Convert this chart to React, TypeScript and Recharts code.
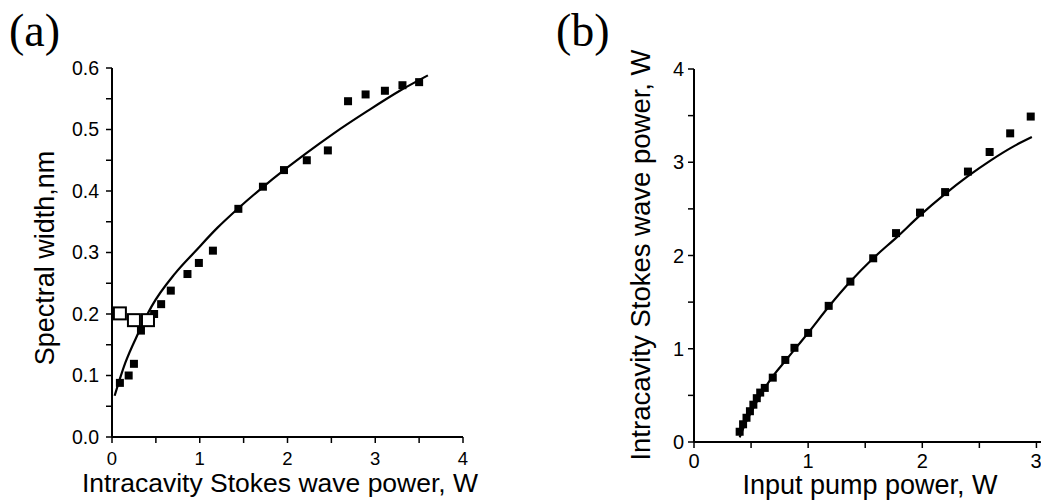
import { ScatterChart, Scatter, XAxis, YAxis, Label } from 'recharts';

const FONT = '"Liberation Sans", Arial, Helvetica, sans-serif';
const SERIF = '"Liberation Serif", "Times New Roman", serif';

// (a) spectral width vs intracavity Stokes wave power
const aPower = [0.09, 0.19, 0.25, 0.33, 0.48, 0.56, 0.67, 0.86, 0.99, 1.15, 1.44, 1.72, 1.96, 2.22, 2.46, 2.69, 2.89, 3.11, 3.31, 3.5];
const aWidth = [0.088, 0.1, 0.119, 0.173, 0.2, 0.216, 0.238, 0.265, 0.283, 0.303, 0.371, 0.407, 0.434, 0.45, 0.466, 0.546, 0.557, 0.563, 0.572, 0.577];
const aOpenPower = [0.09, 0.25, 0.41];
const aOpenWidth = [0.201, 0.19, 0.19];
const aFitPower = [0.03, 0.15, 0.3, 0.45, 0.72, 0.95, 1.2, 1.44, 1.7, 1.97, 2.2, 2.52, 2.9, 3.28, 3.6];
const aFitWidth = [0.067, 0.12, 0.169, 0.212, 0.266, 0.302, 0.34, 0.372, 0.404, 0.435, 0.46, 0.493, 0.529, 0.563, 0.588];
const aXTicks = [0, 0.5, 1, 1.5, 2, 2.5, 3, 3.5, 4];
const aYTicks = [0, 0.05, 0.1, 0.15, 0.2, 0.25, 0.3, 0.35, 0.4, 0.45, 0.5, 0.55, 0.6];

// (b) intracavity Stokes wave power vs input pump power
const bPump = [0.4, 0.43, 0.46, 0.49, 0.52, 0.55, 0.58, 0.62, 0.69, 0.8, 0.88, 1.0, 1.18, 1.37, 1.57, 1.77, 1.98, 2.2, 2.4, 2.59, 2.77, 2.95];
const bStokes = [0.11, 0.19, 0.26, 0.33, 0.4, 0.47, 0.53, 0.58, 0.69, 0.88, 1.01, 1.17, 1.46, 1.72, 1.97, 2.24, 2.46, 2.68, 2.9, 3.11, 3.31, 3.49];
const bFitPump = [0.4, 0.45, 0.5, 0.6, 0.7, 0.8, 0.9, 1.0, 1.18, 1.37, 1.57, 1.78, 1.98, 2.19, 2.4, 2.6, 2.8, 2.96];
const bFitStokes = [0.05, 0.2, 0.32, 0.54, 0.72, 0.87, 1.02, 1.17, 1.45, 1.72, 1.97, 2.2, 2.43, 2.65, 2.85, 3.02, 3.17, 3.27];
const bXTicks = [0, 0.5, 1, 1.5, 2, 2.5, 3];
const bYTicks = [0, 0.5, 1, 1.5, 2, 2.5, 3, 3.5, 4];

const zip = (xs: number[], ys: number[]) => xs.map((x, i) => ({ x, y: ys[i] }));

const isWhole = (v: number, step: number) => Math.abs(v / step - Math.round(v / step)) < 1e-6;

const FilledSquare = (props: any) => (
  <rect x={props.cx - 4} y={props.cy - 4} width={8} height={8} fill="#000" />
);
const OpenSquare = (props: any) => (
  <rect x={props.cx - 6} y={props.cy - 6} width={12} height={12} fill="#fff" stroke="#000" strokeWidth={2} />
);
const NoDot = () => <g />;

const axisLine = { stroke: '#000', strokeWidth: 2 };
const tickLine = { stroke: '#000', strokeWidth: 1.5 };

export default function App() {
  return (
    <div style={{ position: 'absolute', left: 0, top: 0, width: 1041, height: 502, background: '#fff' }}>
      <div style={{ position: 'absolute', left: 0, top: 0 }}>
        <ScatterChart width={540} height={502} margin={{ top: 68, right: 77, bottom: 0, left: 0 }}>
          <XAxis
            type="number"
            dataKey="x"
            domain={[0, 4]}
            ticks={aXTicks}
            tickFormatter={(v: number) => (isWhole(v, 1) ? String(v) : '')}
            height={65}
            tickSize={6}
            tickMargin={9}
            axisLine={axisLine}
            tickLine={tickLine}
            tick={{ fill: '#000', fontSize: 18.5, fontFamily: FONT }}
          >
            <Label
              content={() => (
                <text x={280} y={492} textAnchor="middle" fontSize={26.5} fontFamily={FONT} fill="#000">
                  Intracavity Stokes wave power, W
                </text>
              )}
            />
          </XAxis>
          <YAxis
            type="number"
            dataKey="y"
            domain={[0, 0.6]}
            ticks={aYTicks}
            tickFormatter={(v: number) => (isWhole(v, 0.1) ? v.toFixed(1) : '')}
            width={112}
            tickSize={6}
            tickMargin={7}
            axisLine={axisLine}
            tickLine={tickLine}
            tick={{ fill: '#000', fontSize: 19.5, fontFamily: FONT }}
          >
            <Label
              content={() => (
                <text
                  x={54}
                  y={258}
                  transform="rotate(-90 54 258)"
                  textAnchor="middle"
                  fontSize={27}
                  fontFamily={FONT}
                  fill="#000"
                >
                  Spectral width,nm
                </text>
              )}
            />
          </YAxis>
          <Scatter data={zip(aPower, aWidth)} shape={FilledSquare} isAnimationActive={false} />
          <Scatter
            data={zip(aFitPower, aFitWidth)}
            shape={NoDot}
            line={{ stroke: '#000', strokeWidth: 2.2 }}
            lineJointType="monotoneX"
            isAnimationActive={false}
          />
          <Scatter data={zip(aOpenPower, aOpenWidth)} shape={OpenSquare} isAnimationActive={false} />
        </ScatterChart>
      </div>
      <div style={{ position: 'absolute', left: 540, top: 0 }}>
        <ScatterChart width={501} height={502} margin={{ top: 69, right: 0, bottom: 0, left: 0 }}>
          <XAxis
            type="number"
            dataKey="x"
            domain={[0, 3.04]}
            ticks={bXTicks}
            tickFormatter={(v: number) => (isWhole(v, 1) ? String(v) : '')}
            height={60}
            tickSize={6}
            tickMargin={6}
            axisLine={axisLine}
            tickLine={tickLine}
            tick={{ fill: '#000', fontSize: 20, fontFamily: FONT }}
          >
            <Label
              content={() => (
                <text x={330} y={494} textAnchor="middle" fontSize={27} fontFamily={FONT} fill="#000">
                  Input pump power, W
                </text>
              )}
            />
          </XAxis>
          <YAxis
            type="number"
            dataKey="y"
            domain={[0, 4]}
            ticks={bYTicks}
            tickFormatter={(v: number) => (isWhole(v, 1) ? String(v) : '')}
            width={154}
            tickSize={6}
            tickMargin={4}
            axisLine={axisLine}
            tickLine={tickLine}
            tick={{ fill: '#000', fontSize: 20, fontFamily: FONT }}
          >
            <Label
              content={() => (
                <text
                  x={110}
                  y={255}
                  transform="rotate(-90 110 255)"
                  textAnchor="middle"
                  fontSize={27.5}
                  fontFamily={FONT}
                  fill="#000"
                >
                  Intracavity Stokes wave power, W
                </text>
              )}
            />
          </YAxis>
          <Scatter data={zip(bPump, bStokes)} shape={FilledSquare} isAnimationActive={false} />
          <Scatter
            data={zip(bFitPump, bFitStokes)}
            shape={NoDot}
            line={{ stroke: '#000', strokeWidth: 2.2 }}
            lineJointType="monotoneX"
            isAnimationActive={false}
          />
        </ScatterChart>
      </div>
      <svg width={1041} height={502} style={{ position: 'absolute', left: 0, top: 0, pointerEvents: 'none' }}>
        <text x={9} y={46} fontSize={46} fontFamily={SERIF} fill="#000">(a)</text>
        <text x={556} y={46} fontSize={46} fontFamily={SERIF} fill="#000">(b)</text>
      </svg>
    </div>
  );
}
